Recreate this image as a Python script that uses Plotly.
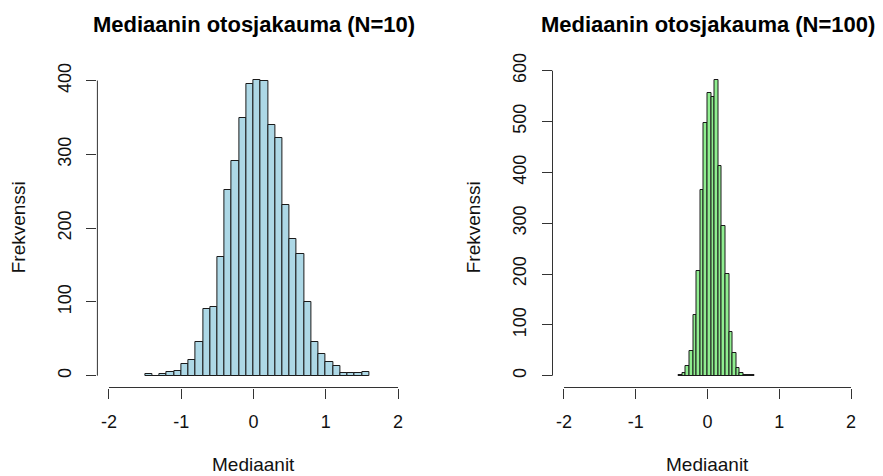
import plotly.graph_objects as go

# ---- data ----
bin_width_10 = 0.1
bin_start_10 = -1.5
counts_10 = [2, 0, 2, 5, 6, 16, 21, 45, 91, 93, 161, 251, 291, 349, 396, 401,
             400, 340, 322, 231, 185, 165, 100, 45, 29, 18, 13, 4, 4, 3, 5]

bin_width_100 = 0.05
bin_start_100 = -0.4
counts_100 = [2, 5, 19, 49, 119, 206, 365, 498, 556, 549, 582, 413, 294, 201,
              85, 44, 16, 5, 2, 1, 1]

x_ticks = [-2, -1, 0, 1, 2]
x_tick_labels = ["-2", "-1", "0", "1", "2"]
y_ticks_10 = [0, 100, 200, 300, 400]
y_ticks_100 = [0, 100, 200, 300, 400, 500, 600]

titles = ["Mediaanin otosjakauma (N=10)", "Mediaanin otosjakauma (N=100)"]
x_label = "Mediaanit"
y_label = "Frekvenssi"
colors = ["#ADD8E6", "#90EE90"]

W, H = 883, 476
FONT = "Liberation Sans, Arial, sans-serif"


def centers(start, width, counts):
    return [start + width * (i + 0.5) for i in range(len(counts))]


fig = go.Figure()

panels = [
    dict(start=bin_start_10, width=bin_width_10, counts=counts_10, yt=y_ticks_10,
         xdom=(97.4 / W, 409.6 / W), color=colors[0], title=titles[0],
         ytitle_px=18.5),
    dict(start=bin_start_100, width=bin_width_100, counts=counts_100, yt=y_ticks_100,
         xdom=(552.5 / W, 862.5 / W), color=colors[1], title=titles[1],
         ytitle_px=473.5),
]

ydom = (1 - 387.5 / H, 1 - 68 / H)

for i, p in enumerate(panels):
    xa = "x" if i == 0 else "x2"
    ya = "y" if i == 0 else "y2"
    fig.add_trace(go.Bar(
        x=centers(p["start"], p["width"], p["counts"]),
        y=p["counts"],
        width=[p["width"]] * len(p["counts"]),
        marker=dict(color=p["color"], line=dict(color="#1a1a1a", width=1)),
        xaxis=xa, yaxis=ya, showlegend=False, hoverinfo="skip",
    ))
    ymax = max(p["counts"])
    xr = [x_ticks[0] - 0.04 * (x_ticks[-1] - x_ticks[0]),
          x_ticks[-1] + 0.04 * (x_ticks[-1] - x_ticks[0])]
    yr = [-0.04 * ymax, ymax * 1.04]
    axsuffix = "" if i == 0 else "2"
    fig.update_layout(**{
        "xaxis" + axsuffix: dict(
            domain=list(p["xdom"]), range=xr, anchor=ya, tickvals=x_ticks,
            ticktext=x_tick_labels,
            ticks="outside", ticklen=10, tickwidth=1, tickcolor="#333",
            showgrid=False, zeroline=False, showline=False, automargin=False,
            tickfont=dict(family=FONT, size=18, color="#111"),
            ticklabelstandoff=8,
        ),
        "yaxis" + axsuffix: dict(
            domain=list(ydom), range=yr, anchor=xa, tickvals=p["yt"],
            ticktext=[str(v) for v in p["yt"]],
            ticks="outside", ticklen=10, tickwidth=1, tickcolor="#333",
            showgrid=False, zeroline=False, showline=False, tickangle=-90,
            automargin=False,
            tickfont=dict(family=FONT, size=18, color="#111"),
            ticklabelstandoff=8,
        ),
    })
    # R-style axis lines spanning first..last tick
    fig.add_shape(type="line", xref=xa, yref=ya + " domain",
                  x0=x_ticks[0], x1=x_ticks[-1], y0=0, y1=0,
                  line=dict(color="#333", width=1))
    fig.add_shape(type="line", xref=xa + " domain", yref=ya,
                  x0=0, x1=0, y0=p["yt"][0], y1=p["yt"][-1],
                  line=dict(color="#333", width=1))
    cx = (p["xdom"][0] + p["xdom"][1]) / 2
    # main title
    fig.add_annotation(text="<b>" + p["title"] + "</b>", xref="paper", yref="paper",
                       x=cx, y=1 - 24 / H, xanchor="center", yanchor="middle",
                       showarrow=False,
                       font=dict(family=FONT, size=22, color="#000"))
    # x label
    fig.add_annotation(text=x_label, xref="paper", yref="paper",
                       x=cx, y=1 - 464 / H, xanchor="center", yanchor="middle",
                       showarrow=False,
                       font=dict(family=FONT, size=19, color="#111"))
    # y label
    fig.add_annotation(text=y_label, xref="paper", yref="paper",
                       x=p["ytitle_px"] / W, y=(ydom[0] + ydom[1]) / 2,
                       xanchor="center", yanchor="middle", textangle=-90,
                       showarrow=False,
                       font=dict(family=FONT, size=19, color="#111"))

fig.update_layout(
    width=W, height=H, margin=dict(l=0, r=0, t=0, b=0, autoexpand=False),
    paper_bgcolor="white", plot_bgcolor="white", bargap=0,
    font=dict(family=FONT),
)

fig.write_html("out.html")
